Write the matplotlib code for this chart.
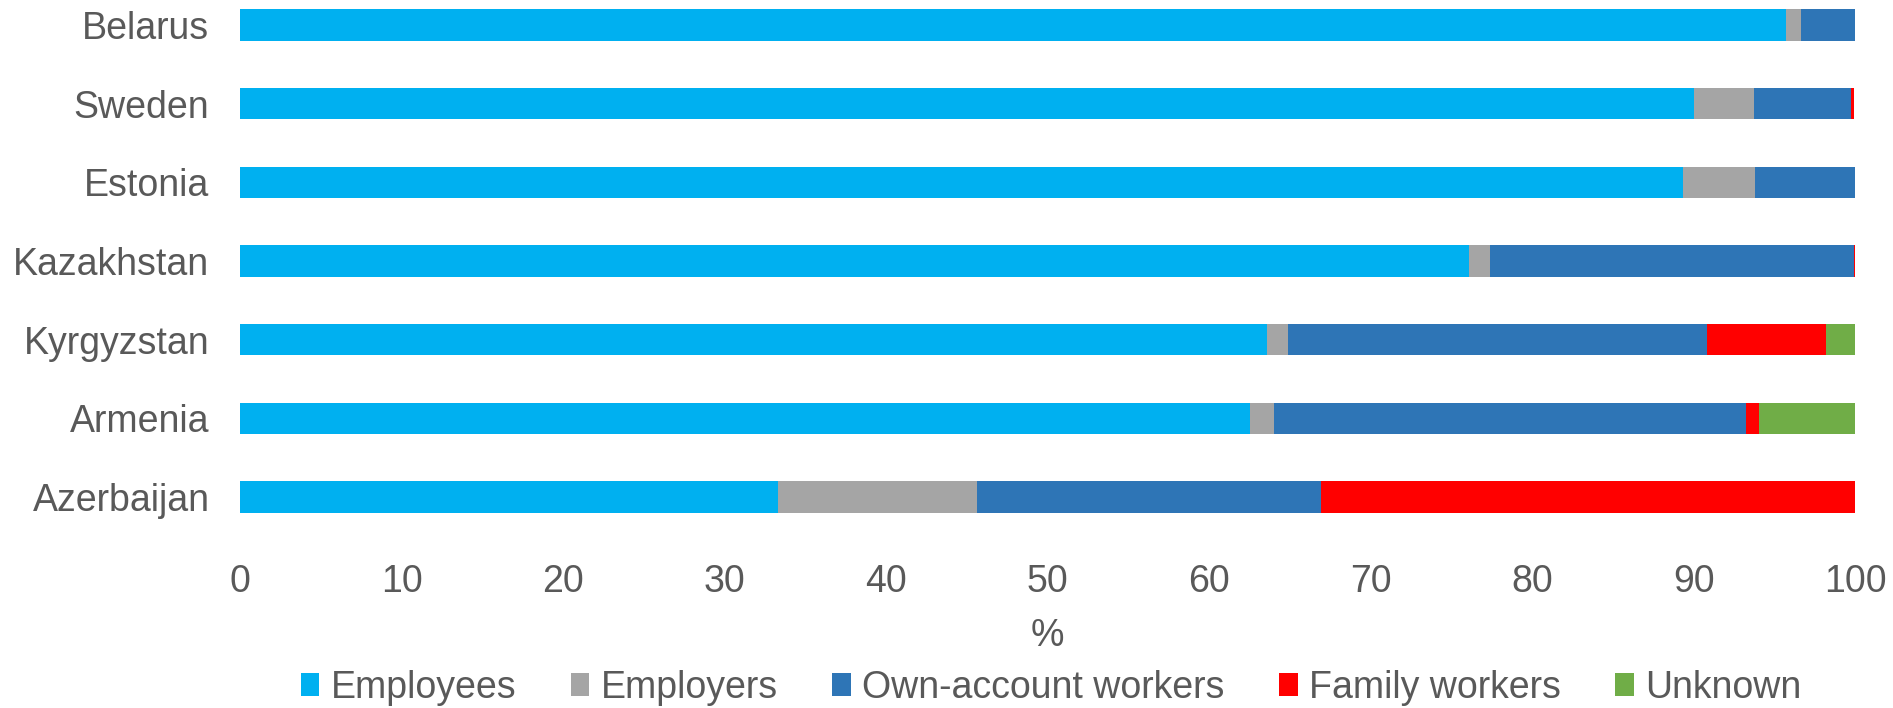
import matplotlib
matplotlib.use('Agg')
import matplotlib.pyplot as plt
import numpy as np
from matplotlib.patches import Patch

# Status in employment, % of total employment
countries = ['Belarus', 'Sweden', 'Estonia', 'Kazakhstan', 'Kyrgyzstan', 'Armenia', 'Azerbaijan']
employees = [95.7, 90.0, 89.3, 76.1, 63.6, 62.5, 33.3]
employers = [0.9, 3.7, 4.5, 1.3, 1.3, 1.5, 12.3]
own_account = [3.4, 6.0, 6.2, 22.5, 25.9, 29.2, 21.3]
family_workers = [0.0, 0.2, 0.0, 0.1, 7.4, 0.8, 33.1]
unknown = [0.0, 0.0, 0.0, 0.0, 1.8, 6.0, 0.0]

series_names = ['Employees', 'Employers', 'Own-account workers', 'Family workers', 'Unknown']
colors = ['#00B0F0', '#A5A5A5', '#2E75B6', '#FF0000', '#70AD47']
text_color = '#595959'
fs = 27

plt.rcParams['font.family'] = ['Liberation Sans', 'DejaVu Sans']

W, H = 1893, 708
fig = plt.figure(figsize=(W / 100, H / 100), dpi=100)
# axes box in pixels: left 240, right 1855.5, top 0, bottom 536.4
ax = fig.add_axes([240 / W, 1 - 536.4 / H, (1855.5 - 240) / W, 536.4 / H])

y = np.arange(len(countries))
left = np.zeros(len(countries))
for name, vals, col in zip(series_names,
                           [employees, employers, own_account, family_workers, unknown],
                           colors):
    vals = np.array(vals)
    ax.barh(y, vals, left=left, height=0.4, color=col, label=name, linewidth=0)
    left += vals

ax.set_xlim(0, 100)
ax.set_ylim(6.5, -0.318)
ax.set_xticks(np.arange(0, 101, 10))
ax.set_yticks(y)
ax.set_yticklabels(countries)

for s in ax.spines.values():
    s.set_visible(False)
ax.tick_params(axis='both', length=0, labelsize=fs, colors=text_color)
ax.tick_params(axis='y', pad=22)
ax.tick_params(axis='x', pad=20)

ax.set_xlabel('%', fontsize=fs, color=text_color, labelpad=13)

handles = [Patch(facecolor=c, edgecolor='none') for c in colors]
fig.legend(handles, series_names, loc='center', ncol=5,
           bbox_to_anchor=(1051 / W, 1 - 688 / H), frameon=False,
           fontsize=fs, labelcolor=text_color,
           handlelength=0.5, handleheight=0.55, handletextpad=0.3,
           columnspacing=1.45, borderpad=0, borderaxespad=0)

fig.savefig('out.png', dpi=100)
